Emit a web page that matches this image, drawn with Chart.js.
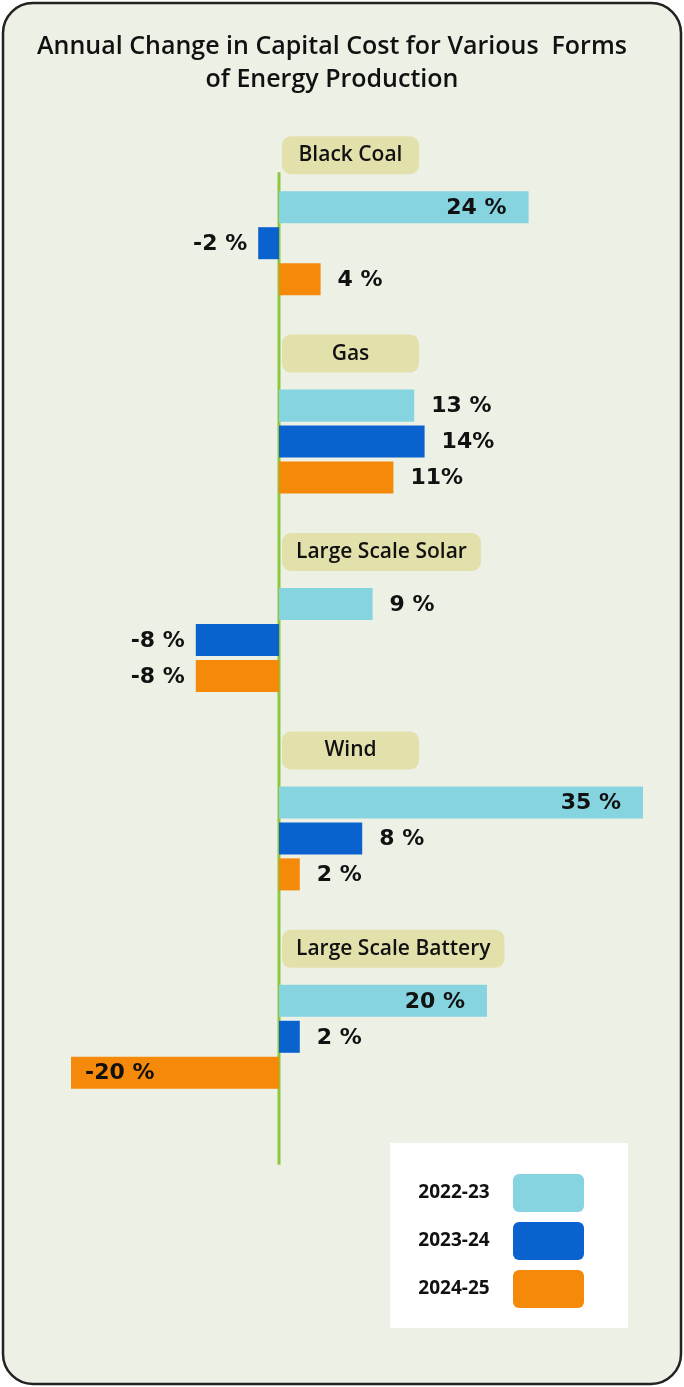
<!DOCTYPE html>
<html>
<head>
<meta charset="utf-8">
<script src="https://cdn.jsdelivr.net/npm/chart.js@4.4.1/dist/chart.umd.min.js"></script>
<style>
  html, body { margin: 0; padding: 0; background: #ffffff; }
  canvas { display: block; }
</style>
</head>
<body>
<canvas id="energyChart" width="684" height="1387"></canvas>
<script>
// Variation annuelle du coût d'investissement par filière.
const categories = ['Black Coal', 'Gas', 'Large Scale Solar', 'Wind', 'Large Scale Battery'];
const years      = ['2022-23', '2023-24', '2024-25'];

const change2223 = [24, 13, 9, 35, 20];
const change2324 = [-2, 14, -8, 8, 2];
const change2425 = [4, 11, -8, 2, -20];

const text2223 = ['24 %', '13 %', '9 %', '35 %', '20 %'];
const text2324 = ['-2 %', '14%', '-8 %', '8 %', '2 %'];
const text2425 = ['4 %', '11%', '-8 %', '2 %', '-20 %'];

const titleLines = ['Annual Change in Capital Cost for Various  Forms', 'of Energy Production'];

const cyan   = '#86D4E0';
const blue   = '#0A62CF';
const orange = '#F5890A';
const green  = '#8DC63F';
const pill   = '#E3E1AB';
const bg     = '#ECF0E5';
const ink    = '#111111';

const valueTexts = [text2223, text2324, text2425];

function roundRect(ctx, x, y, w, h, r) {
  ctx.beginPath();
  ctx.moveTo(x + r, y);
  ctx.arcTo(x + w, y, x + w, y + h, r);
  ctx.arcTo(x + w, y + h, x, y + h, r);
  ctx.arcTo(x, y + h, x, y, r);
  ctx.arcTo(x, y, x + w, y, r);
  ctx.closePath();
}

// fond + cadre arrondi + titre
const framePlugin = {
  id: 'frame',
  beforeDraw(chart) {
    const ctx = chart.ctx;
    ctx.save();
    roundRect(ctx, 3, 3, 678, 1381, 30);
    ctx.fillStyle = bg;
    ctx.fill();
    ctx.lineWidth = 2.5;
    ctx.strokeStyle = '#222222';
    ctx.stroke();

    ctx.fillStyle = ink;
    ctx.font = '600 25px "Open Sans"';
    ctx.textAlign = 'center';
    ctx.textBaseline = 'middle';
    ctx.fillText(titleLines[0], 332, 47);
    ctx.fillText(titleLines[1], 332, 80);
    ctx.restore();
  },
  // ligne verticale du zéro, derrière les barres
  beforeDatasetsDraw(chart) {
    const { ctx, scales: { x, y } } = chart;
    const x0 = x.getPixelForValue(0);
    const top = y.getPixelForValue(0) - 71;
    const bottom = y.getPixelForValue(categories.length - 1) + 128;
    ctx.save();
    ctx.strokeStyle = green;
    ctx.lineWidth = 3;
    ctx.beginPath();
    ctx.moveTo(x0, top);
    ctx.lineTo(x0, bottom);
    ctx.stroke();
    ctx.restore();
  },
};

// étiquettes de catégorie (pastilles), valeurs et légende
const labelsPlugin = {
  id: 'labels',
  afterDatasetsDraw(chart) {
    const { ctx, scales: { x, y } } = chart;
    const x0 = x.getPixelForValue(0);
    ctx.save();

    // pastilles
    ctx.font = '600 21px "Open Sans"';
    ctx.textBaseline = 'middle';
    ctx.textAlign = 'center';
    categories.forEach((cat, i) => {
      const cy = y.getPixelForValue(i) - 88;
      const w = Math.max(137, ctx.measureText(cat).width + 28);
      const left = x0 + 3;
      roundRect(ctx, left, cy - 19, w, 38, 9);
      ctx.fillStyle = pill;
      ctx.fill();
      ctx.fillStyle = ink;
      ctx.fillText(cat, left + w / 2, cy);
    });

    // valeurs
    ctx.font = 'bold 22px "DejaVu Sans"';
    chart.data.datasets.forEach((ds, d) => {
      const meta = chart.getDatasetMeta(d);
      meta.data.forEach((bar, i) => {
        const v = ds.data[i];
        const txt = valueTexts[d][i];
        const inside = Math.abs(v) >= 20;
        let tx;
        if (v >= 0) {
          if (inside) { ctx.textAlign = 'right'; tx = bar.x - 22; }
          else { ctx.textAlign = 'left'; tx = bar.x + 17; }
        } else {
          if (inside) { ctx.textAlign = 'left'; tx = bar.x + 14; }
          else { ctx.textAlign = 'right'; tx = bar.x - 11; }
        }
        ctx.fillStyle = ink;
        ctx.fillText(txt, tx, bar.y + 1);
      });
    });

    // légende
    ctx.fillStyle = '#ffffff';
    ctx.fillRect(390, 1143, 238, 185);
    ctx.font = 'bold 19px "Open Sans"';
    ctx.textAlign = 'center';
    const colors = [cyan, blue, orange];
    years.forEach((yr, k) => {
      const cy = 1193 + k * 48;
      ctx.fillStyle = ink;
      ctx.fillText(yr, 454, cy);
      roundRect(ctx, 513, cy - 19, 71, 38, 6);
      ctx.fillStyle = colors[k];
      ctx.fill();
    });
    ctx.restore();
  },
};

new Chart(document.getElementById('energyChart'), {
  type: 'bar',
  data: {
    labels: categories,
    datasets: [
      { label: years[0], data: change2223, backgroundColor: cyan },
      { label: years[1], data: change2324, backgroundColor: blue },
      { label: years[2], data: change2425, backgroundColor: orange },
    ],
  },
  options: {
    indexAxis: 'y',
    responsive: false,
    animation: false,
    events: [],
    categoryPercentage: 0.544,
    barPercentage: 0.89,
    layout: { padding: { left: 71, right: 41, top: 144, bottom: 251 } },
    plugins: {
      legend: { display: false },
      tooltip: { enabled: false },
      title: { display: false },
    },
    scales: {
      x: { display: false, min: -20, max: 35 },
      y: { display: false },
    },
  },
  plugins: [framePlugin, labelsPlugin],
});
</script>
</body>
</html>
